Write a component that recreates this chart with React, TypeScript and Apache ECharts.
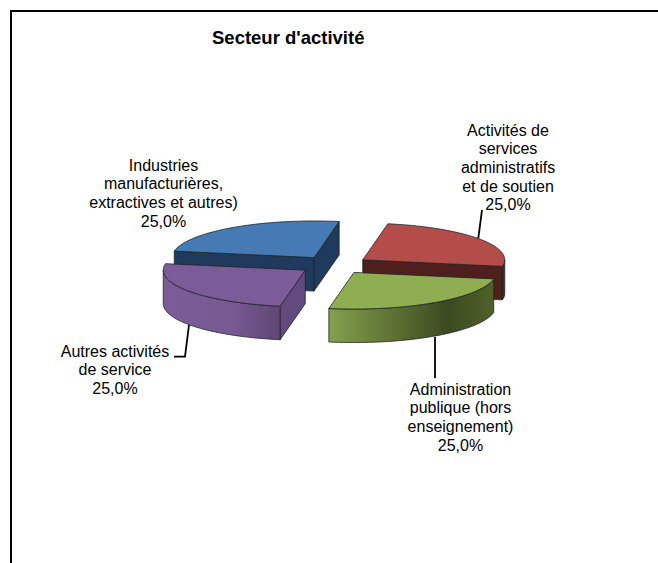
import React, { useEffect, useRef } from "react";
import * as echarts from "echarts";

const titleText = "Secteur d'activité";
const categories = [
  "Industries\nmanufacturières,\nextractives et autres)",
  "Activités de\nservices\nadministratifs\net de soutien",
  "Administration\npublique (hors\nenseignement)",
  "Autres activités\nde service",
];
const values = [25, 25, 25, 25];

const topColors = ["#457ab4", "#b44d4a", "#8fae51", "#7c5c98"];
const radialColors = ["#1f3a5c", "#4f1f1e", "#4f6128", "#64497e"];
const sideRadialColors = ["#3d6b9e", "#4f1f1e", "#4f6128", "#64497e"];
const arcStops = [
  [[0, "#3d6b9e"], [1, "#3d6b9e"]],
  [[0, "#5c2423"], [1, "#4f1f1e"]],
  [[0, "#84a04c"], [0.72, "#3c4a20"], [1, "#4f6128"]],
  [[0, "#7c5c98"], [0.6, "#775a92"], [1, "#5f4674"]],
];

const CX = 334;
const CY = 265;
const R = 142;
const K = 0.258;
const DEPTH = 33.5;
const EXPLODE = 35;
const START_DEG = 169.8;

const labelAnchors = [
  [163.5, 156],
  [508, 121],
  [460.5, 380],
  [115, 342],
];
const leaderLines = [
  null,
  [[478.3, 238.3], [482, 210]],
  [[435, 337], [435, 378]],
  [[189, 325], [185, 356.7], [174, 356.7]],
];

const rad = (d: number) => (d * Math.PI) / 180;

function renderSlice(params: any, api: any) {
  const i = params.dataIndex;
  const total = values.reduce((a, b) => a + b, 0);
  const before = values.slice(0, i).reduce((a, b) => a + b, 0);
  const v = api.value(0);
  const a0 = START_DEG - (before / total) * 360;
  const a1 = a0 - (v / total) * 360;
  const mid = (a0 + a1) / 2;
  const ox = CX + EXPLODE * Math.cos(rad(mid));
  const oy = CY - EXPLODE * K * Math.sin(rad(mid));
  const pt = (a: number, dz = 0) => [
    ox + R * Math.cos(rad(a)),
    oy - R * K * Math.sin(rad(a)) + dz,
  ];
  const arcPts = (from: number, to: number, dz = 0) => {
    const n = Math.max(2, Math.ceil(Math.abs(from - to) / 2));
    const out: number[][] = [];
    for (let s = 0; s <= n; s++) out.push(pt(from + ((to - from) * s) / n, dz));
    return out;
  };
  const stroke = { stroke: "#20242a", lineWidth: 0.8, lineJoin: "round" };
  const children: any[] = [];
  const apex = [ox, oy];
  const apexLow = [ox, oy + DEPTH];

  const radial = (a: number, fill: string) => {
    const p = pt(a);
    const q = pt(a, DEPTH);
    children.push({
      type: "polygon",
      shape: { points: [apex, p, q, apexLow] },
      style: { fill, ...stroke },
    });
  };
  // a radial wall is drawn only when its outward normal faces the viewer
  const normal0 = Math.sin(rad(a0 + 90));
  const normal1 = Math.sin(rad(a1 - 90));
  if (normal0 < 0) radial(a0, radialColors[i]);
  if (normal1 < 0) radial(a1, i === 0 ? radialColors[i] : sideRadialColors[i]);

  // outer wall: the part of the rim lying on the near half of the ellipse
  const norm = (a: number) => ((a % 360) + 360) % 360;
  let from = Infinity;
  let to = -Infinity;
  for (let s = 0; s <= 90; s++) {
    const a = a0 + ((a1 - a0) * s) / 90;
    if (norm(a) >= 180) {
      from = Math.min(from, a);
      to = Math.max(to, a);
    }
  }
  if (from < to) {
    const top = arcPts(to, from);
    const low = arcPts(from, to, DEPTH);
    children.push({
      type: "polygon",
      shape: { points: [...top, ...low] },
      style: {
        fill: {
          type: "linear",
          x: 0,
          y: 0,
          x2: 1,
          y2: 0,
          colorStops: arcStops[i].map(([offset, color]) => ({ offset, color })),
        },
        ...stroke,
      },
    });
  }

  children.push({
    type: "polygon",
    shape: { points: [apex, ...arcPts(a0, a1)] },
    style: { fill: topColors[i], ...stroke },
  });

  const leader = leaderLines[i];
  if (leader) {
    children.push({
      type: "polyline",
      shape: { points: leader },
      style: { fill: "none", stroke: "#000", lineWidth: 1.8 },
    });
  }

  const pct = ((v / total) * 100).toFixed(1).replace(".", ",") + "%";
  children.push({
    type: "text",
    style: {
      text: categories[i] + "\n" + pct,
      x: labelAnchors[i][0],
      y: labelAnchors[i][1],
      align: "center",
      verticalAlign: "top",
      fill: "#000",
      font: "16px 'Liberation Sans', Arial, sans-serif",
      lineHeight: 18.6,
    },
  });

  return { type: "group", children };
}

export default function App() {
  const ref = useRef<HTMLDivElement>(null);
  useEffect(() => {
    document.body.style.margin = "0";
    const chart = echarts.init(ref.current!, null, { renderer: "svg" });
    chart.setOption({
      animation: false,
      backgroundColor: "#fff",
      title: {
        text: titleText,
        left: 212,
        top: 28,
        padding: 0,
        textStyle: {
          fontFamily: "'Liberation Sans', Arial, sans-serif",
          fontWeight: "bold",
          fontSize: 18.5,
          color: "#000",
        },
      },
      graphic: [
        {
          type: "polyline",
          shape: { points: [[11, 563], [11, 11], [658, 11]] },
          style: { fill: "none", stroke: "#000", lineWidth: 2 },
          silent: true,
        },
      ],
      series: [
        {
          type: "custom",
          coordinateSystem: "none",
          renderItem: renderSlice,
          data: values.map((v, i) => ({ name: categories[i], value: [v] })),
        },
      ],
    });
    return () => chart.dispose();
  }, []);
  return <div ref={ref} style={{ width: 658, height: 563 }} />;
}
